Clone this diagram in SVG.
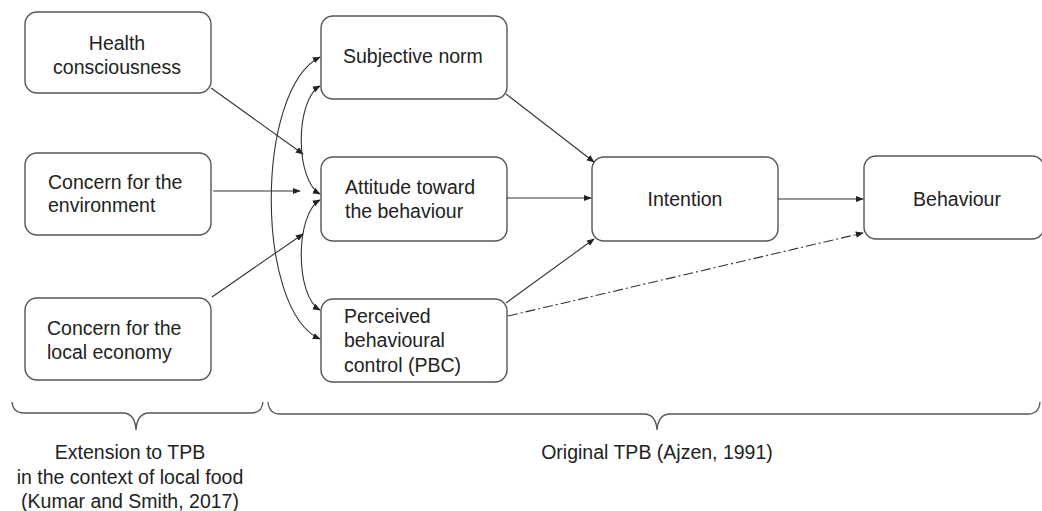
<svg xmlns="http://www.w3.org/2000/svg" width="1042" height="511" viewBox="0 0 1042 511">
<defs>
<style>
.box{fill:#fff;stroke:#555;stroke-width:1.4}
.t{font-family:"Liberation Sans",Arial,sans-serif;font-size:19.5px;fill:#222}
.c{text-anchor:middle}
.ln{fill:none;stroke:#333;stroke-width:1.1}
.dd{stroke-dasharray:10 3 2 3}
.br{fill:none;stroke:#555;stroke-width:1.3}
</style>
<marker id="ah" viewBox="0 0 10 10" refX="9" refY="5" markerWidth="8" markerHeight="8" markerUnits="userSpaceOnUse" orient="auto-start-reverse">
<path d="M0,1 L10,5 L0,9 z" fill="#222"/>
</marker>
</defs>
<rect width="1042" height="511" fill="#fff"/>
<g id="health"><rect class="box" x="25" y="12" width="186" height="81" rx="12"/><text class="t c" x="117" y="50">Health</text><text class="t c" x="117" y="74">consciousness</text></g>
<g id="environment"><rect class="box" x="25" y="153" width="186" height="82" rx="12"/><text class="t" x="48" y="189">Concern for the</text><text class="t" x="48" y="212">environment</text></g>
<g id="economy"><rect class="box" x="25" y="298" width="186" height="82" rx="12"/><text class="t" x="47" y="335">Concern for the</text><text class="t" x="47" y="359">local economy</text></g>
<g id="subjective"><rect class="box" x="321" y="16" width="186" height="83" rx="12"/><text class="t" x="343" y="63">Subjective norm</text></g>
<g id="attitude"><rect class="box" x="321" y="157" width="186" height="84" rx="12"/><text class="t" x="345" y="194">Attitude toward</text><text class="t" x="345" y="218">the behaviour</text></g>
<g id="pbc"><rect class="box" x="321" y="299" width="186" height="83" rx="12"/><text class="t" x="344" y="323">Perceived</text><text class="t" x="344" y="347">behavioural</text><text class="t" x="344" y="372">control (PBC)</text></g>
<g id="intention"><rect class="box" x="592" y="157" width="186" height="84" rx="12"/><text class="t c" x="685" y="206">Intention</text></g>
<g id="behaviour"><rect class="box" x="864" y="156" width="180" height="83" rx="12"/><text class="t c" x="957" y="206">Behaviour</text></g>
<g id="connectors">
<path class="ln" d="M211,88 L303,154" marker-end="url(#ah)"/>
<path class="ln" d="M213,191 L300,191" marker-end="url(#ah)"/>
<path class="ln" d="M212,297 L303,234" marker-end="url(#ah)"/>
<path class="ln" d="M320,57 C255,90 255,310 320,339" marker-start="url(#ah)" marker-end="url(#ah)"/>
<path class="ln" d="M320,86 C295,100 295,180 320,194" marker-start="url(#ah)" marker-end="url(#ah)"/>
<path class="ln" d="M320,200 C295,214 295,296 320,310" marker-start="url(#ah)" marker-end="url(#ah)"/>
<path class="ln" d="M506,94 L594,162" marker-end="url(#ah)"/>
<path class="ln" d="M507,198 L591,198" marker-end="url(#ah)"/>
<path class="ln" d="M506,303 L594,239" marker-end="url(#ah)"/>
<path class="ln" d="M778,199 L863,199" marker-end="url(#ah)"/>
<path class="ln dd" d="M508,316 L863,233" marker-end="url(#ah)"/>
</g>
<g id="braces">
<path class="br" d="M12,402 Q13,413 24,413 L124,413 Q135,414 136,430 Q137,414 148,413 L251,413 Q262,413 263,402"/>
<path class="br" d="M268,402 Q269,414 280,414 L645,414 Q656,415 657,430 Q658,415 669,414 L1028,414 Q1039,414 1040,402"/>
</g>
<g id="labels">
<text class="t c" x="130" y="459">Extension to TPB</text>
<text class="t c" x="130" y="484">in the context of local food</text>
<text class="t c" x="130" y="508">(Kumar and Smith, 2017)</text>
<text class="t c" x="657" y="459">Original TPB (Ajzen, 1991)</text>
</g>
</svg>
